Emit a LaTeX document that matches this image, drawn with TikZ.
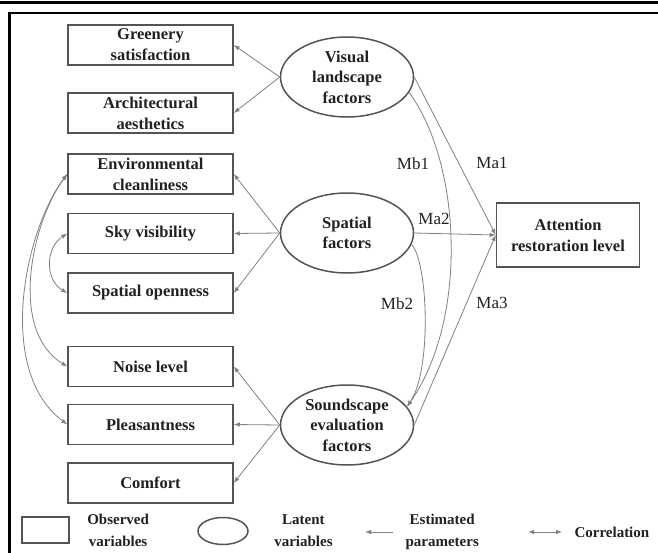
\documentclass[tikz,border=0pt]{standalone}
\usepackage{fontspec}
\setmainfont{Liberation Serif}
\usepackage{tikz}
\usetikzlibrary{shapes, arrows.meta, positioning}
\definecolor{framegray}{rgb}{0.33, 0.33, 0.33}
\definecolor{linkgray}{rgb}{0.5, 0.5, 0.5}
\definecolor{inkblack}{rgb}{0.13, 0.13, 0.13}

\begin{document}
\begin{tikzpicture}[x=1pt, y=-1pt]
			\tikzstyle{obs}=[rectangle, draw=framegray, line width=1.5pt, minimum width=165pt, minimum height=40pt, inner sep=1pt, align=center, text=inkblack, font=\bfseries\fontsize{16.5}{21}\selectfont]
			\tikzstyle{lat}=[ellipse, draw=framegray, line width=1.5pt, minimum width=133pt, minimum height=80pt, inner sep=0pt, align=center, text=inkblack, font=\bfseries\fontsize{16.5}{20.5}\selectfont]
			\tikzstyle{load}=[draw=linkgray, line width=0.8pt, -{Latex[length=6pt, width=4.5pt]}]
			\tikzstyle{corr}=[draw=linkgray, line width=0.8pt, {Latex[length=6pt, width=4.5pt]}-{Latex[length=6pt, width=4.5pt]}]
			\tikzstyle{path}=[font=\fontsize{17}{20}\selectfont, text=inkblack]
			\tikzstyle{legtext}=[align=center, text=inkblack, font=\bfseries\fontsize{15}{22}\selectfont]
			%%
			\useasboundingbox (0,0) rectangle (658,553);
			\draw [line width=3pt] (0,3) -- (658,3);
			\draw [line width=2.5pt] (8,13) -- (658,13);
			\draw [line width=3pt] (9,12) -- (9,553);
			%%
			\node (green) at (150.5,45) [obs] {Greenery\\satisfaction};
			\node (arch) at (150.5,113) [obs] {Architectural\\aesthetics};
			\node (env) at (150.5,174) [obs] {Environmental\\cleanliness};
			\node (sky) at (150.5,233.5) [obs] {Sky visibility};
			\node (open) at (150.5,293) [obs] {Spatial openness};
			\node (noise) at (150.5,366.5) [obs] {Noise level};
			\node (pleas) at (150.5,424.5) [obs] {Pleasantness};
			\node (comf) at (150.5,483) [obs] {Comfort};
			
			\node (vis) at (347,77) [lat] {Visual\\landscape\\factors};
			\node (spa) at (347,233) [lat] {Spatial\\factors};
			\node (snd) at (347,425) [lat] {Soundscape\\evaluation\\factors};
			
			\node (attn) at (568,235) [obs, minimum width=143pt, minimum height=64pt] {Attention\\restoration level};
			
			\draw [load] (vis.west) -- (green.east);
			\draw [load] (vis.west) -- (arch.east);
			\draw [load] (spa.west) -- (env.east);
			\draw [load] (spa.west) -- (sky.east);
			\draw [load] (spa.west) -- (open.east);
			\draw [load] (snd.west) -- (noise.east);
			\draw [load] (snd.west) -- (pleas.east);
			\draw [load] (snd.west) -- (comf.east);
			
			\draw [load] (vis.east) -- (attn.west);
			\draw [load] (spa.east) -- (attn.west);
			\draw [load] (snd.east) -- (attn.west);
			\draw [load] (vis.-14) .. controls (462,165) and (468,320) .. (snd.17);
			\draw [load] (spa.-10) .. controls (428,262) and (432,370) .. (snd.17);
			
			\draw [corr] (env.west) .. controls (25,230) and (-5,370) .. (pleas.west);
			\draw [corr] (env.west) .. controls (32,222) and (8,330) .. (noise.west);
			\draw [corr] (sky.west) .. controls (45,248) and (45,280) .. (open.west);
			
			\node (ma1) at (492,163) [path] {Ma1};
			\node (mb1) at (413,164) [path] {Mb1};
			\node (ma2) at (434,219) [path] {Ma2};
			\node (mb2) at (397,304) [path] {Mb2};
			\node (ma3) at (492,303) [path] {Ma3};
			
			\node (legobs) at (45.5,530) [rectangle, draw=framegray, line width=1.5pt, minimum width=47pt, minimum height=26pt] {};
			\node [right=14pt of legobs, legtext] (lobs) {Observed\\variables};
			\node (leglat) at (223,531) [ellipse, draw=framegray, line width=1.5pt, minimum width=50pt, minimum height=27pt] {};
			\node [right=22pt of leglat, legtext] (llat) {Latent\\variables};
			\coordinate (e1) at (393,532);
			\coordinate (e2) at (365,532);
			\draw [load] (e1) -- (e2);
			\node [right=9pt of e1, legtext] (lest) {Estimated\\parameters};
			\coordinate (c1) at (528,532);
			\coordinate (c2) at (562,532);
			\draw [corr] (c1) -- (c2);
			\node [right=9pt of c2, legtext] (lcor) {Correlation};
\end{tikzpicture}
\end{document}
